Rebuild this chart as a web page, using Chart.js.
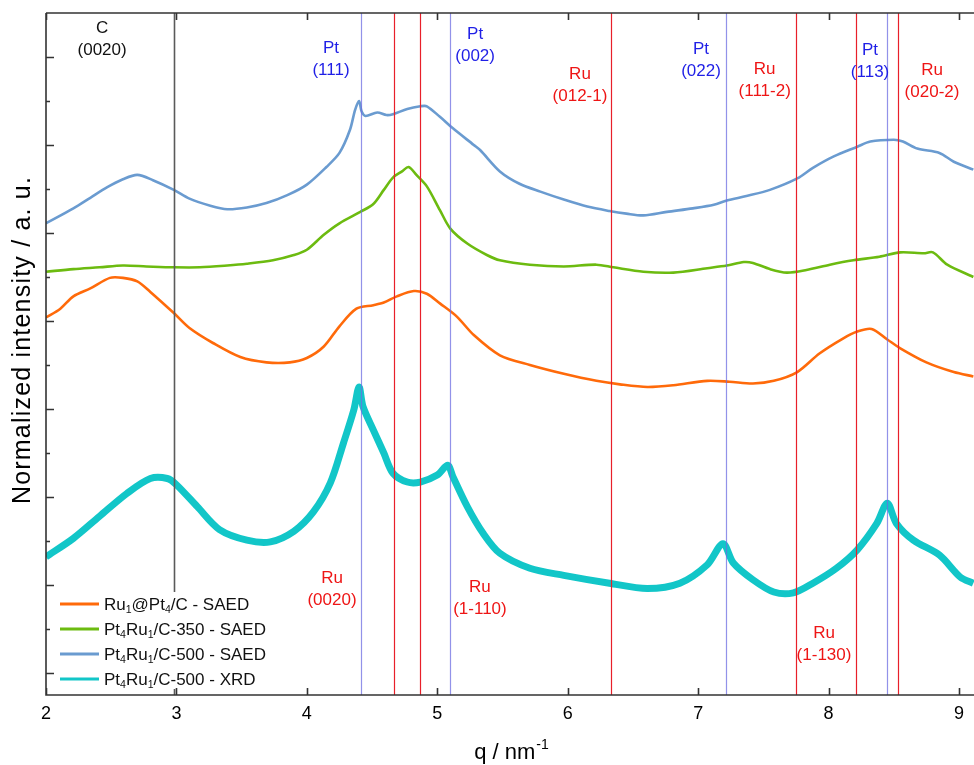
<!DOCTYPE html>
<html lang="en">
<head>
    <meta charset="UTF-8">
    <title>Normalized intensity vs q</title>
    <script src="https://cdn.jsdelivr.net/npm/chart.js"></script>
    <style>
        body {
            margin: 0;
            background: #fff;
            overflow: hidden;
        }
        canvas {
            display: block;
        }
    </style>
</head>
<body>
    <canvas id="profileChart" width="974" height="765"></canvas>

    <script>
        const FONT = '"Liberation Sans", Arial, sans-serif';

        // series (q in nm^-1, normalized intensity with offsets)
        const qOrange = [2.00, 2.11, 2.21, 2.34, 2.49, 2.59, 2.70, 2.80, 2.98, 3.10, 3.28, 3.49, 3.69, 3.87, 4.00, 4.13, 4.25, 4.38, 4.51, 4.59, 4.69, 4.82, 4.92, 5.02, 5.15, 5.28, 5.48, 5.71, 5.97, 6.22, 6.40, 6.61, 6.81, 7.07, 7.24, 7.42, 7.58, 7.76, 7.93, 8.11, 8.22, 8.33, 8.45, 8.55, 8.75, 8.96, 9.11];
        const yOrange = [4.04, 4.14, 4.28, 4.37, 4.49, 4.49, 4.45, 4.33, 4.09, 3.92, 3.75, 3.59, 3.53, 3.53, 3.58, 3.71, 3.94, 4.14, 4.18, 4.21, 4.28, 4.34, 4.31, 4.20, 4.05, 3.84, 3.61, 3.50, 3.40, 3.32, 3.28, 3.25, 3.27, 3.32, 3.31, 3.29, 3.32, 3.42, 3.63, 3.80, 3.88, 3.91, 3.79, 3.69, 3.53, 3.42, 3.37];

        const qGreen = [2.00, 2.21, 2.41, 2.59, 2.77, 2.98, 3.18, 3.39, 3.54, 3.74, 3.90, 4.00, 4.13, 4.25, 4.41, 4.51, 4.59, 4.66, 4.73, 4.78, 4.84, 4.92, 5.02, 5.10, 5.23, 5.38, 5.48, 5.71, 5.97, 6.22, 6.35, 6.58, 6.81, 7.07, 7.22, 7.35, 7.42, 7.55, 7.68, 7.83, 8.01, 8.19, 8.39, 8.55, 8.73, 8.80, 8.91, 9.11];
        const yGreen = [4.56, 4.59, 4.61, 4.63, 4.62, 4.61, 4.61, 4.63, 4.65, 4.69, 4.75, 4.81, 4.98, 5.11, 5.24, 5.33, 5.49, 5.63, 5.70, 5.75, 5.66, 5.53, 5.26, 5.05, 4.88, 4.75, 4.69, 4.64, 4.62, 4.64, 4.61, 4.56, 4.55, 4.60, 4.63, 4.67, 4.66, 4.59, 4.55, 4.58, 4.64, 4.69, 4.73, 4.78, 4.77, 4.78, 4.64, 4.50];

        const qBlue = [2.00, 2.21, 2.34, 2.47, 2.59, 2.70, 2.82, 2.98, 3.10, 3.26, 3.39, 3.54, 3.69, 3.85, 4.00, 4.15, 4.25, 4.33, 4.37, 4.40, 4.42, 4.45, 4.54, 4.61, 4.66, 4.77, 4.87, 4.92, 5.02, 5.12, 5.28, 5.33, 5.48, 5.63, 5.79, 5.97, 6.15, 6.32, 6.45, 6.58, 6.76, 6.96, 7.12, 7.22, 7.37, 7.55, 7.76, 7.88, 8.04, 8.22, 8.32, 8.50, 8.57, 8.68, 8.85, 8.96, 9.11];
        const yBlue = [5.11, 5.28, 5.40, 5.52, 5.61, 5.66, 5.60, 5.49, 5.39, 5.31, 5.27, 5.29, 5.34, 5.43, 5.55, 5.75, 5.91, 6.17, 6.40, 6.50, 6.38, 6.33, 6.37, 6.34, 6.35, 6.41, 6.44, 6.44, 6.32, 6.19, 6.00, 5.94, 5.70, 5.56, 5.47, 5.38, 5.30, 5.25, 5.22, 5.20, 5.24, 5.28, 5.32, 5.37, 5.42, 5.49, 5.62, 5.74, 5.87, 5.98, 6.04, 6.06, 6.04, 5.96, 5.91, 5.81, 5.72];

        const qCyan = [2.00, 2.21, 2.41, 2.62, 2.80, 2.93, 3.00, 3.16, 3.33, 3.54, 3.72, 3.90, 4.05, 4.18, 4.28, 4.36, 4.40, 4.43, 4.51, 4.59, 4.66, 4.77, 4.87, 5.00, 5.08, 5.12, 5.23, 5.35, 5.48, 5.71, 5.97, 6.32, 6.61, 6.86, 7.07, 7.19, 7.27, 7.42, 7.58, 7.73, 7.88, 8.06, 8.22, 8.37, 8.45, 8.52, 8.65, 8.85, 9.01, 9.11];
        const yCyan = [1.32, 1.53, 1.78, 2.04, 2.21, 2.21, 2.14, 1.89, 1.63, 1.51, 1.49, 1.61, 1.83, 2.16, 2.61, 2.99, 3.25, 3.03, 2.76, 2.50, 2.27, 2.17, 2.17, 2.25, 2.36, 2.23, 1.89, 1.59, 1.36, 1.19, 1.11, 1.02, 0.96, 1.02, 1.23, 1.47, 1.25, 1.06, 0.92, 0.91, 1.02, 1.19, 1.40, 1.70, 1.93, 1.70, 1.51, 1.34, 1.09, 1.02];

        const seriesLabels = ['Ru₁@Pt₄/C - SAED', 'Pt₄Ru₁/C-350 - SAED', 'Pt₄Ru₁/C-500 - SAED', 'Pt₄Ru₁/C-500 - XRD'];

        // reference reflections (q positions)
        const cLines = [2.98];
        const ptLines = [4.415, 5.10, 7.21, 8.45];
        const ruLines = [4.67, 4.865, 6.33, 7.75, 8.21, 8.535];

        // reflection labels: phase, indices, where the text sits (q, intensity)
        const peakLabels = [
            ['C', '(0020)', 2.43, 7.33],
            ['Pt', '(111)', 4.185, 7.10],
            ['Pt', '(002)', 5.29, 7.26],
            ['Ru', '(012-1)', 6.094, 6.80],
            ['Pt', '(022)', 7.022, 7.09],
            ['Ru', '(111-2)', 7.51, 6.86],
            ['Pt', '(113)', 8.318, 7.08],
            ['Ru', '(020-2)', 8.793, 6.85],
            ['Ru', '(0020)', 4.193, 1.08],
            ['Ru', '(1-110)', 5.327, 0.97],
            ['Ru', '(1-130)', 7.965, 0.45]
        ];

        const xTickValues = [2, 3, 4, 5, 6, 7, 8, 9];
        const yMajorTicks = [0, 1, 2, 3, 4, 5, 6, 7];
        const yMinorTicks = [0.5, 1.5, 2.5, 3.5, 4.5, 5.5, 6.5];

        const phaseColor = { C: '#111111', Pt: '#1f1fe6', Ru: '#ee1515' };

        function zip(xs, ys) {
            return xs.map((x, i) => ({ x: x, y: ys[i] }));
        }

        // text with unicode subscript digits drawn as small lowered digits
        function drawRich(ctx, text, x, y, size) {
            const subs = '₀₁₂₃₄₅₆₇₈₉';
            let cx = x;
            for (const ch of text) {
                const i = subs.indexOf(ch);
                if (i >= 0) {
                    ctx.font = (size * 0.62) + 'px ' + FONT;
                    ctx.fillText(String(i), cx, y + size * 0.28);
                    cx += ctx.measureText(String(i)).width;
                } else {
                    ctx.font = size + 'px ' + FONT;
                    ctx.fillText(ch, cx, y);
                    cx += ctx.measureText(ch).width;
                }
            }
        }

        const decorPlugin = {
            id: 'decor',
            afterDatasetsDraw(chart) {
                const ctx = chart.ctx;
                const area = chart.chartArea;
                const xs = chart.scales.x;
                const ys = chart.scales.y;
                ctx.save();

                function vline(q, color, width) {
                    const px = Math.round(xs.getPixelForValue(q)) + 0.5;
                    ctx.strokeStyle = color;
                    ctx.lineWidth = width;
                    ctx.beginPath();
                    ctx.moveTo(px, area.top);
                    ctx.lineTo(px, area.bottom);
                    ctx.stroke();
                }
                cLines.forEach(q => vline(q, '#5a5a5a', 1.6));
                ptLines.forEach(q => vline(q, 'rgba(110,110,225,0.75)', 1.2));
                ruLines.forEach(q => vline(q, '#e8202a', 1.2));

                // labels
                ctx.textAlign = 'center';
                ctx.textBaseline = 'middle';
                ctx.font = '17px ' + FONT;
                peakLabels.forEach(([phase, hkl, q, v]) => {
                    const px = xs.getPixelForValue(q);
                    const py = ys.getPixelForValue(v);
                    ctx.fillStyle = phaseColor[phase];
                    ctx.fillText(phase, px, py);
                    ctx.fillText(hkl, px, py + 22);
                });

                // legend box
                ctx.fillStyle = '#fff';
                ctx.fillRect(area.left + 3, 592, 215, 97);
                ctx.textAlign = 'left';
                ctx.textBaseline = 'middle';
                chart.data.datasets.forEach((ds, i) => {
                    const ry = 604 + i * 25;
                    ctx.strokeStyle = ds.borderColor;
                    ctx.lineWidth = 3;
                    ctx.beginPath();
                    ctx.moveTo(60, ry);
                    ctx.lineTo(99, ry);
                    ctx.stroke();
                    ctx.fillStyle = '#111';
                    drawRich(ctx, ds.label, 104, ry + 1, 17);
                });

                // frame and inward ticks
                ctx.strokeStyle = '#333';
                ctx.lineWidth = 1.6;
                ctx.beginPath();
                ctx.moveTo(area.left, area.top);
                ctx.lineTo(area.right, area.top);
                ctx.moveTo(area.left, area.top);
                ctx.lineTo(area.left, area.bottom);
                ctx.lineTo(area.right, area.bottom);
                xTickValues.forEach(v => {
                    const px = Math.round(xs.getPixelForValue(v)) + 0.5;
                    ctx.moveTo(px, area.bottom);
                    ctx.lineTo(px, area.bottom - 7);
                    ctx.moveTo(px, area.top);
                    ctx.lineTo(px, area.top + 7);
                });
                yMajorTicks.forEach(v => {
                    const py = Math.round(ys.getPixelForValue(v)) + 0.5;
                    ctx.moveTo(area.left, py);
                    ctx.lineTo(area.left + 8, py);
                });
                yMinorTicks.forEach(v => {
                    const py = Math.round(ys.getPixelForValue(v)) + 0.5;
                    ctx.moveTo(area.left, py);
                    ctx.lineTo(area.left + 4, py);
                });
                ctx.stroke();

                // axis titles
                ctx.fillStyle = '#000';
                ctx.textBaseline = 'alphabetic';
                ctx.font = '22px ' + FONT;
                const main = 'q / nm';
                const w1 = ctx.measureText(main).width;
                ctx.font = '14px ' + FONT;
                const w2 = ctx.measureText('-1').width;
                const start = (area.left + area.right) / 2 + 1 - (w1 + w2) / 2;
                ctx.font = '22px ' + FONT;
                ctx.fillText(main, start, 759);
                ctx.font = '14px ' + FONT;
                ctx.fillText('-1', start + w1 + 1, 749);

                ctx.translate(23, 340);
                ctx.rotate(-Math.PI / 2);
                ctx.textAlign = 'center';
                ctx.textBaseline = 'middle';
                ctx.font = '25px ' + FONT;
                if ('letterSpacing' in ctx) ctx.letterSpacing = '1.2px';
                ctx.fillText('Normalized intensity / a. u.', 0, 0);
                ctx.restore();
            }
        };

        const ctx = document.getElementById('profileChart').getContext('2d');
        new Chart(ctx, {
            type: 'line',
            data: {
                datasets: [
                    { label: seriesLabels[0], data: zip(qOrange, yOrange), borderColor: '#ff6a0a', borderWidth: 2.6 },
                    { label: seriesLabels[1], data: zip(qGreen, yGreen), borderColor: '#6cbb10', borderWidth: 2.6 },
                    { label: seriesLabels[2], data: zip(qBlue, yBlue), borderColor: '#6a9bd0', borderWidth: 2.6 },
                    { label: seriesLabels[3], data: zip(qCyan, yCyan), borderColor: '#12c6c8', borderWidth: 7 }
                ]
            },
            options: {
                responsive: false,
                animation: false,
                devicePixelRatio: 1,
                layout: { padding: { top: 13, right: 0, left: 0, bottom: 0 } },
                elements: {
                    point: { radius: 0 },
                    line: { tension: 0.3, fill: false }
                },
                plugins: {
                    legend: { display: false },
                    tooltip: { enabled: false }
                },
                scales: {
                    x: {
                        type: 'linear',
                        min: 2,
                        max: 9.115,
                        afterBuildTicks: s => { s.ticks = xTickValues.map(v => ({ value: v })); },
                        afterFit: s => { s.height = 70; },
                        grid: { display: false, drawTicks: false },
                        border: { display: false },
                        ticks: { padding: 8, color: '#000', font: { size: 18, family: FONT } }
                    },
                    y: {
                        type: 'linear',
                        min: -0.25,
                        max: 7.5,
                        afterFit: s => { s.width = 46; },
                        grid: { display: false, drawTicks: false },
                        border: { display: false },
                        ticks: { display: false }
                    }
                }
            },
            plugins: [decorPlugin]
        });
    </script>
</body>
</html>
